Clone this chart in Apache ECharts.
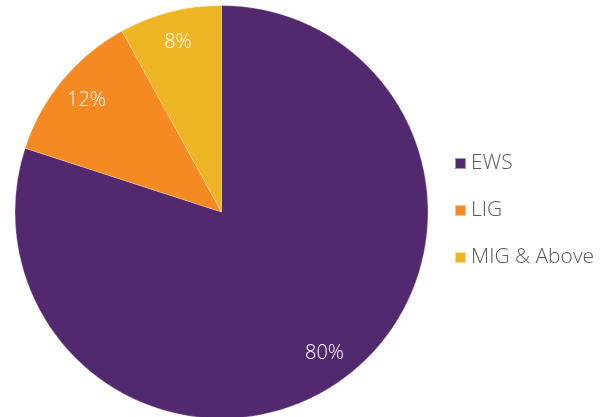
<!DOCTYPE html>
<html>
<head>
<meta charset="utf-8">
<script src="https://cdn.jsdelivr.net/npm/echarts@6/dist/echarts.min.js"></script>
<style>
  html, body { margin: 0; padding: 0; background: #ffffff; }
  #chart { width: 603px; height: 417px; }
</style>
</head>
<body>
<div id="chart"></div>
<script>
// Household share by income group
const categories = ['EWS', 'LIG', 'MIG & Above'];
const shares = [80, 12, 8];
const colors = ['#52286f', '#f58a23', '#edb523'];

const FONT = "'Open Sans', sans-serif";

const pieData = categories.map((name, i) => ({
  name: name,
  value: shares[i],
  itemStyle: { color: colors[i] }
}));

// Transparent ring used only to place the percentage labels near the rim
const labelData = categories.map((name, i) => ({
  name: name,
  value: shares[i],
  itemStyle: { color: 'rgba(0,0,0,0)' }
}));

const chart = echarts.init(document.getElementById('chart'), null, { renderer: 'canvas' });
chart.setOption({
  animation: false,
  legend: {
    orient: 'vertical',
    left: 454,
    top: 153,
    padding: 0,
    icon: 'rect',
    itemWidth: 11,
    itemHeight: 11,
    itemGap: 26,
    data: categories,
    textStyle: {
      fontFamily: FONT,
      fontWeight: 300,
      fontSize: 21,
      color: '#595959'
    }
  },
  series: [
    {
      type: 'pie',
      center: [221.5, 212],
      radius: [0, 206.5],
      startAngle: 90,
      clockwise: true,
      label: { show: false },
      labelLine: { show: false },
      itemStyle: { borderColor: 'rgba(255,255,255,0.5)', borderWidth: 0.5 },
      silent: true,
      data: pieData
    },
    {
      type: 'pie',
      center: [221.5, 212],
      radius: [138, 206.5],
      startAngle: 90,
      clockwise: true,
      silent: true,
      label: {
        show: true,
        position: 'inside',
        formatter: '{c}%',
        fontFamily: FONT,
        fontWeight: 300,
        fontSize: 20,
        color: '#ffffff'
      },
      labelLine: { show: false },
      data: labelData
    }
  ]
});
</script>
</body>
</html>
